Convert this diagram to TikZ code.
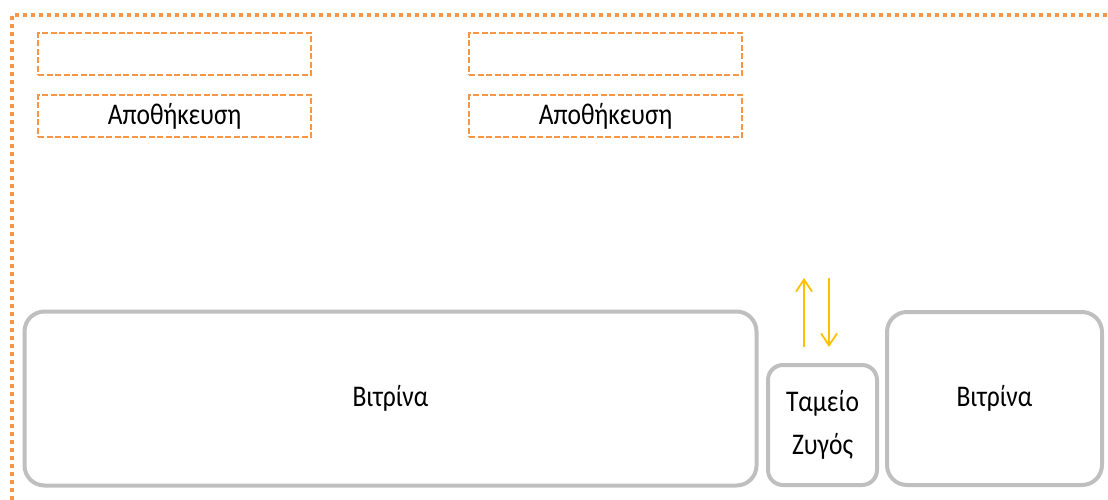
\documentclass[tikz,border=0pt]{standalone}
\usepackage{fontspec}
\setmainfont{Carlito}[FakeStretch=0.85]
\usetikzlibrary{arrows.meta}
\definecolor{plorange}{HTML}{F79646}
\definecolor{plgray}{HTML}{BFBFBF}
\definecolor{plyellow}{HTML}{FFC000}
\tikzset{
  store/.style={draw=plorange,line width=2pt,dash pattern=on 6pt off 2.5pt,
    minimum width=273pt,minimum height=42pt,inner sep=0pt},
  counter/.style={draw=plgray,line width=4pt,rounded corners=20pt,inner sep=0pt,
    align=center},
  flow/.style={draw=plyellow,line width=1.8pt,-{Straight Barb[length=12pt,width=16pt]}}
}
\begin{document}
\begin{tikzpicture}[x=1pt,y=-1pt,font=\fontsize{30}{43}\selectfont]
\useasboundingbox (0,0) rectangle (1108,500);
% shop floor
\draw[plorange,line width=4pt,dash pattern=on 4pt off 4pt] (12,500) -- (12,15) -- (1108,15);

% storage
\node[store] (s1) at (174.5,54.5) {};
\node[store] (s2) at (174.5,116.5) {\raisebox{-3pt}{Αποθήκευση}};
\node[store] (s3) at (605.5,54.5) {};
\node[store] (s4) at (605.5,116.5) {\raisebox{-3pt}{Αποθήκευση}};

% counters
\node[counter,minimum width=732pt,minimum height=174pt] (v1) at (390.5,398.5) {Βιτρίνα};
\node[counter,minimum width=109pt,minimum height=120pt,rounded corners=15pt] (t) at (822.5,425) {Ταμείο\\Ζυγός};
\node[counter,minimum width=215pt,minimum height=173pt] (v2) at (994.5,398.5) {Βιτρίνα};

\coordinate (up) at (804,347);
\coordinate (upend) at (804,278);
\coordinate (down) at (829,278);
\coordinate (downend) at (829,347);
\draw[flow] (up) -- (upend);
\draw[flow] (down) -- (downend);
\end{tikzpicture}
\end{document}
